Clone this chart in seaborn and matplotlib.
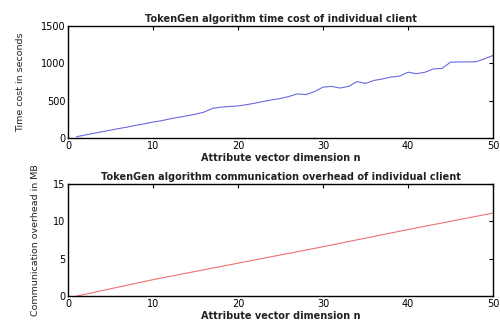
import matplotlib
matplotlib.use("Agg")
import matplotlib.pyplot as plt
import seaborn as sns
import pandas as pd

# Top panel: time cost (seconds) vs attribute vector dimension n
n_time = list(range(1, 51))
time_cost = [15, 38, 60, 82, 103, 125, 145, 168, 188, 212,
             230, 255, 275, 295, 318, 345, 395, 412, 420, 428,
             445, 465, 488, 510, 528, 555, 590, 580, 620, 680,
             690, 668, 690, 755, 730, 770, 790, 815, 828, 880,
             860, 880, 925, 930, 1015, 1018, 1018, 1020, 1060, 1105]

# Bottom panel: communication overhead (MB)
n_comm = [1, 10, 20, 30, 40, 50]
comm_mb = [0.0, 2.2, 4.4, 6.6, 8.9, 11.1]

x_ticks = [0, 10, 20, 30, 40, 50]
top_yticks = [0, 500, 1000, 1500]
bot_yticks = [0, 5, 10, 15]

sns.set_theme(style="white")
plt.rcParams['font.family'] = ['DejaVu Sans']

fig = plt.figure(figsize=(5.0, 3.29), dpi=100)
ax1 = fig.add_axes([0.136, 0.581, 0.850, 0.340])
ax2 = fig.add_axes([0.136, 0.100, 0.850, 0.341])

df1 = pd.DataFrame({"n": n_time, "t": time_cost})
df2 = pd.DataFrame({"n": n_comm, "c": comm_mb})

sns.lineplot(data=df1, x="n", y="t", ax=ax1, color="#6a6ae0", linewidth=0.8)
sns.lineplot(data=df2, x="n", y="c", ax=ax2, color="#f07070", linewidth=0.8)

for ax, yt, ylab, title, ylx in [
    (ax1, top_yticks, "Time cost in seconds", "TokenGen algorithm time cost of individual client", -0.101),
    (ax2, bot_yticks, "Communication overhead in MB", "TokenGen algorithm communication overhead of individual client", -0.066),
]:
    ax.set_xlim(0, 50)
    ax.set_ylim(yt[0], yt[-1])
    ax.set_xticks(x_ticks)
    ax.set_yticks(yt)
    ax.tick_params(direction="in", length=3, width=0.8, top=True, right=True,
                   labelsize=7.0, pad=2, colors="black")
    for s in ax.spines.values():
        s.set_color("black")
        s.set_linewidth(1.0)
    ax.set_xlabel("Attribute vector dimension n", fontsize=7.0, fontweight="bold",
                  labelpad=1.5, color="#222222")
    ax.set_ylabel(ylab, fontsize=6.8, color="#222222")
    ax.yaxis.set_label_coords(ylx, 0.5)
    ax.set_title(title, fontsize=7.0, fontweight="bold", pad=3, color="#222222")

fig.savefig("out.png", dpi=100)
